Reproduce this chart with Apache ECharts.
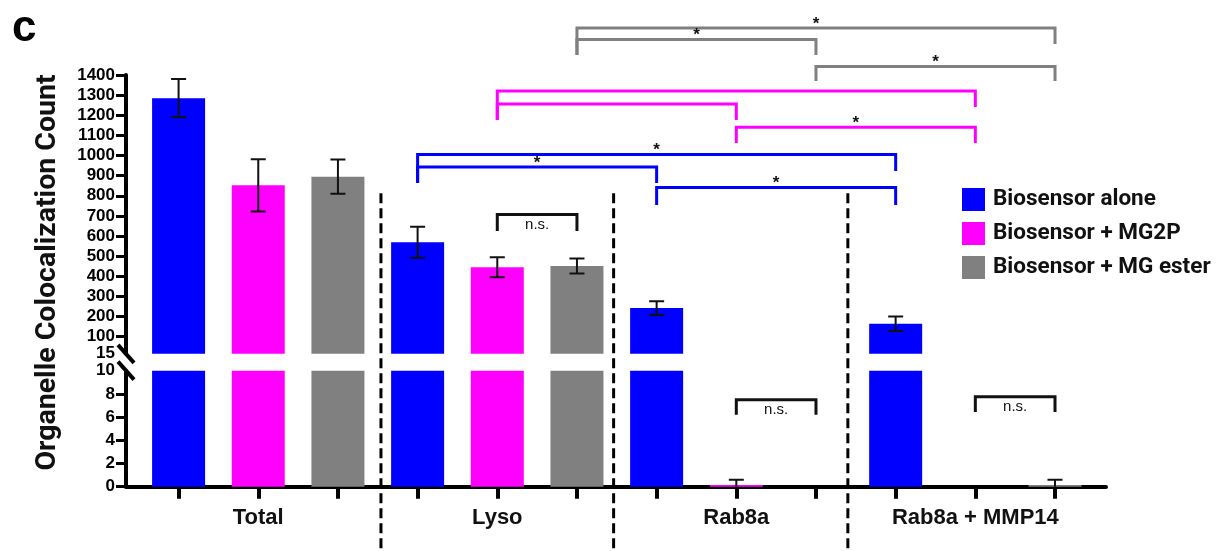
<!DOCTYPE html>
<html>
<head>
<meta charset="utf-8">
<title>Organelle colocalization count</title>
<script src="https://cdn.jsdelivr.net/npm/echarts@6/dist/echarts.min.js"></script>
<style>
  html, body { margin: 0; padding: 0; background: #ffffff; }
  #chart { width: 1226px; height: 551px; }
</style>
</head>
<body>
<div id="chart"></div>
<script>
// Compartments along the x axis, three treatments per compartment
const compartments = ['Total', 'Lyso', 'Rab8a', 'Rab8a + MMP14'];
const treatments = ['Biosensor alone', 'Biosensor + MG2P', 'Biosensor + MG ester'];
const treatmentColors = ['#0000ff', '#ff00ff', '#808080'];

// Mean colocalization counts and error per compartment
const aloneMean = [1285, 569, 242, 164];
const aloneErr = [95, 77, 34, 36];
const mg2pMean = [852, 445, 0.15, 0];
const mg2pErr = [130, 50, 0.45, 0];
const esterMean = [895, 451, 0, 0.15];
const esterErr = [85, 37, 0, 0.45];

// Broken y axis: lower segment 0-10, upper segment 15-1400
const lowerTicks = [0, 2, 4, 6, 8, 10];
const upperTicks = [15, 100, 200, 300, 400, 500, 600, 700, 800, 900, 1000, 1100, 1200, 1300, 1400];

// Significance brackets: [fromBar, toBar, level, leftFoot, rightFoot, mark, treatment]
// bar index = compartment * 3 + treatment
const sigBrackets = [
  [5, 11, 1633, 1499, 1554, '*', 2],
  [5, 8, 1576, 1499, 1499, '*', 2],
  [8, 11, 1442, 1370, 1370, '*', 2],
  [4, 10, 1320, 1176, 1241, '', 1],
  [4, 7, 1256, 1176, 1176, '', 1],
  [7, 10, 1141, 1062, 1062, '*', 1],
  [3, 9, 1005, 863, 923, '*', 0],
  [3, 6, 943, 863, 863, '*', 0],
  [6, 9, 841, 754, 754, '*', 0]
];
// Non-significant comparisons (upper and lower axis segments)
const nsUpper = [[4, 5, 707, 625, 625, 'n.s.']];
const nsLower = [[7, 8, 7.5, 6.2, 6.2, 'n.s.'], [10, 11, 7.75, 6.45, 6.45, 'n.s.']];

const means = [aloneMean, mg2pMean, esterMean];
const errs = [aloneErr, mg2pErr, esterErr];
const nTreat = treatments.length;
const barIndex = (k, t) => k * nTreat + t;
const breakLow = lowerTicks[lowerTicks.length - 1];
const breakHigh = upperTicks[0];

const tickFont = 'Liberation Sans, Arial, sans-serif';
const xMin = -0.66, xMax = 11.64;

const chart = echarts.init(document.getElementById('chart'), null, { renderer: 'canvas' });

function errorItem(params, api) {
  const x = api.value(0), m = api.value(1), e = api.value(2);
  const top = api.coord([x, m + e]);
  const bot = api.coord([x, m - e]);
  const hw = 7.5;
  const st = { stroke: '#111', lineWidth: 2 };
  return {
    type: 'group',
    children: [
      { type: 'line', shape: { x1: top[0], y1: top[1], x2: bot[0], y2: bot[1] }, style: st },
      { type: 'line', shape: { x1: top[0] - hw, y1: top[1], x2: top[0] + hw, y2: top[1] }, style: st },
      { type: 'line', shape: { x1: bot[0] - hw, y1: bot[1], x2: bot[0] + hw, y2: bot[1] }, style: st }
    ]
  };
}

function bracketRenderer(rows) {
  return function (params, api) {
    const row = rows[params.dataIndex];
    const p1 = api.coord([row[0], row[3]]);
    const p2 = api.coord([row[0], row[2]]);
    const p3 = api.coord([row[1], row[2]]);
    const p4 = api.coord([row[1], row[4]]);
    const color = row.length > 6 ? treatmentColors[row[6]] : '#111';
    const children = [{
      type: 'polyline',
      shape: { points: [p1, p2, p3, p4] },
      style: { stroke: color, lineWidth: 3, fill: null, lineJoin: 'miter' }
    }];
    if (row[5]) {
      const star = row[5] === '*';
      children.push({
        type: 'text',
        x: (p2[0] + p3[0]) / 2,
        y: star ? p2[1] - 4 : p2[1] + 10,
        style: {
          text: row[5], align: 'center', verticalAlign: 'middle',
          font: star ? 'bold 17px ' + tickFont : '15px ' + tickFont,
          fill: '#111'
        }
      });
    }
    return { type: 'group', children };
  };
}

const series = [];
treatments.forEach((name, t) => {
  const upper = [], lower = [];
  compartments.forEach((_, k) => {
    const v = means[t][k];
    if (v > breakHigh) upper.push([barIndex(k, t), v]);
    if (v > 0) lower.push([barIndex(k, t), Math.min(v, breakLow)]);
  });
  series.push({
    type: 'bar', name, xAxisIndex: 0, yAxisIndex: 0, data: upper,
    barWidth: 53, barGap: '-100%', itemStyle: { color: treatmentColors[t] }, silent: true
  });
  series.push({
    type: 'bar', name, xAxisIndex: 1, yAxisIndex: 1, data: lower,
    barWidth: 53, barGap: '-100%', itemStyle: { color: treatmentColors[t] }, silent: true
  });
});

const errUpper = [], errLower = [];
treatments.forEach((_, t) => {
  compartments.forEach((__, k) => {
    const v = means[t][k], e = errs[t][k];
    if (v > breakHigh) errUpper.push([barIndex(k, t), v, e]);
    else if (v < breakLow && e > 0) errLower.push([barIndex(k, t), v, e]);
  });
});

series.push({ type: 'custom', xAxisIndex: 0, yAxisIndex: 0, data: errUpper, renderItem: errorItem, clip: true, silent: true, z: 5 });
series.push({ type: 'custom', xAxisIndex: 1, yAxisIndex: 1, data: errLower, renderItem: errorItem, clip: true, silent: true, z: 5 });

const upperBrackets = sigBrackets.concat(nsUpper);
series.push({
  type: 'custom', xAxisIndex: 0, yAxisIndex: 0, clip: false, silent: true, z: 6,
  data: upperBrackets.map(r => r.slice(0, 5)), renderItem: bracketRenderer(upperBrackets)
});
series.push({
  type: 'custom', xAxisIndex: 1, yAxisIndex: 1, clip: false, silent: true, z: 6,
  data: nsLower.map(r => r.slice(0, 5)), renderItem: bracketRenderer(nsLower)
});

const barTicks = [];
compartments.forEach((_, k) => treatments.forEach((__, t) => barTicks.push(barIndex(k, t))));
const groupCenters = compartments.map((_, k) => barIndex(k, (nTreat - 1) / 2));

const yAxisCommon = {
  type: 'value',
  axisLine: { show: true, onZero: false, lineStyle: { color: '#000', width: 4 } },
  axisTick: { show: true, inside: false, length: 10, lineStyle: { color: '#000', width: 3 } },
  axisLabel: {
    color: '#000', fontFamily: tickFont, fontWeight: 'bold', fontSize: 17, margin: 11,
    formatter: v => String(v)
  },
  splitLine: { show: false }
};

chart.setOption({
  animation: false,
  backgroundColor: '#ffffff',
  grid: [
    { left: 126, right: 120, top: 75, height: 278.8, outerBoundsMode: 'none', containLabel: false },
    { left: 126, right: 120, top: 370.7, height: 116, outerBoundsMode: 'none', containLabel: false }
  ],
  xAxis: [
    {
      type: 'value', gridIndex: 0, min: xMin, max: xMax, show: false,
      axisLine: { show: false, onZero: false }, splitLine: { show: false }
    },
    {
      type: 'value', gridIndex: 1, min: xMin, max: xMax,
      axisLine: { show: true, onZero: false, lineStyle: { color: '#000', width: 4 } },
      axisTick: { show: true, customValues: barTicks, length: 12, lineStyle: { color: '#000', width: 4 } },
      axisLabel: {
        customValues: groupCenters,
        formatter: v => compartments[Math.round((v - 1) / nTreat)] || '',
        color: '#111', fontFamily: tickFont, fontWeight: 'bold', fontSize: 22, margin: 20
      },
      splitLine: { show: false }
    }
  ],
  yAxis: [
    Object.assign({}, yAxisCommon, {
      gridIndex: 0, min: breakHigh, max: upperTicks[upperTicks.length - 1],
      axisTick: Object.assign({}, yAxisCommon.axisTick, { customValues: upperTicks.slice(1) }),
      axisLabel: Object.assign({}, yAxisCommon.axisLabel, { customValues: upperTicks })
    }),
    Object.assign({}, yAxisCommon, {
      gridIndex: 1, min: 0, max: breakLow,
      axisTick: Object.assign({}, yAxisCommon.axisTick, { customValues: lowerTicks.slice(0, -1) }),
      axisLabel: Object.assign({}, yAxisCommon.axisLabel, { customValues: lowerTicks })
    })
  ],
  legend: {
    data: treatments,
    orient: 'vertical',
    left: 957, top: 183,
    icon: 'rect',
    itemWidth: 23, itemHeight: 23, itemGap: 11,
    selectedMode: false,
    textStyle: { color: '#111', fontFamily: 'Roboto, sans-serif', fontWeight: 'bold', fontSize: 22.5, padding: [0, 0, 0, 3] }
  },
  series
});

// Axis break marks, compartment separators and titles
function decorate() {
  const ax = chart.convertToPixel({ xAxisIndex: 1 }, xMin);
  const yBreakUp = chart.convertToPixel({ yAxisIndex: 0 }, breakHigh);
  const yBreakLo = chart.convertToPixel({ yAxisIndex: 1 }, breakLow);
  const sepTop = chart.convertToPixel({ yAxisIndex: 0 }, 813);
  const H = chart.getHeight();
  const els = [];
  [yBreakUp, yBreakLo].forEach(cy => els.push({
    type: 'line', silent: true,
    shape: { x1: ax - 8, y1: cy - 9, x2: ax + 8, y2: cy + 9 },
    style: { stroke: '#000', lineWidth: 4 }
  }));
  [2.54, 5.46, 8.40].forEach(v => {
    const x = chart.convertToPixel({ xAxisIndex: 1 }, v);
    els.push({
      type: 'line', silent: true,
      shape: { x1: x, y1: sepTop, x2: x, y2: H },
      style: { stroke: '#000', lineWidth: 3, lineDash: [10, 5] }
    });
  });
  els.push({
    type: 'text', silent: true, x: 48, y: 272.5, rotation: Math.PI / 2,
    style: {
      text: 'Organelle Colocalization Count', align: 'center', verticalAlign: 'middle',
      font: 'bold 28.5px Roboto, sans-serif', fill: '#111'
    }
  });
  els.push({
    type: 'text', silent: true, x: 12, y: 29,
    style: { text: 'c', align: 'left', verticalAlign: 'middle', font: 'bold 44px ' + tickFont, fill: '#000' }
  });
  chart.setOption({ graphic: els });
}
decorate();
</script>
</body>
</html>
